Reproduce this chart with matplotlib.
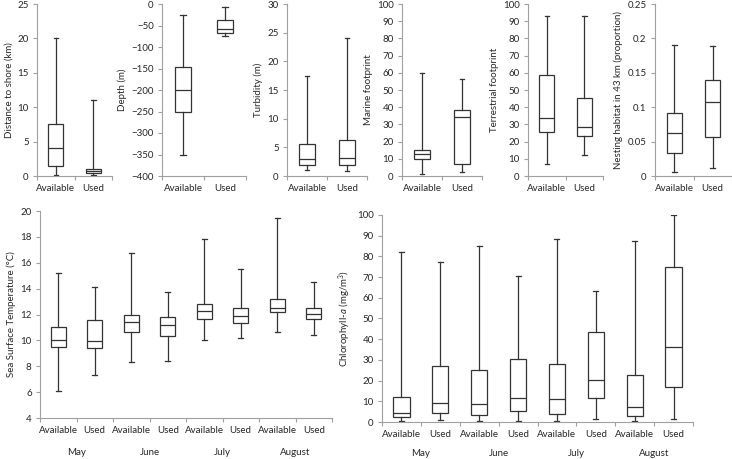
import matplotlib
matplotlib.use('Agg')
import matplotlib.pyplot as plt

plt.rcParams['font.family'] = ['Lato', 'DejaVu Sans']
plt.rcParams['mathtext.fontset'] = 'custom'
plt.rcParams['mathtext.rm'] = 'Lato'
plt.rcParams['mathtext.it'] = 'Lato:italic'

groups = ['Available', 'Used']
months = ['May', 'June', 'July', 'August']

# each row: whisker low, q1, median, q3, whisker high
shore = [[0.1, 1.4, 4.0, 7.6, 20.1], [0.2, 0.45, 0.7, 1.0, 11.0]]
depth = [[-352, -252, -200, -146, -25], [-75, -68, -59, -38, -6]]
turbidity = [[1.0, 1.9, 2.9, 5.5, 17.4], [0.9, 2.0, 3.2, 6.2, 24.0]]
marine = [[1.0, 10.1, 12.8, 15.1, 59.6], [2.2, 6.8, 34.3, 38.6, 56.6]]
terrestrial = [[7.0, 25.3, 34.0, 59.0, 92.8], [12.0, 23.1, 28.5, 45.2, 92.8]]
nesting = [[0.006, 0.034, 0.063, 0.092, 0.190], [0.012, 0.057, 0.108, 0.139, 0.189]]

# May Avail, May Used, June Avail, June Used, ...
sst = [[6.1, 9.49, 10.05, 11.07, 15.23],
       [7.33, 9.38, 9.92, 11.54, 14.12],
       [8.3, 10.62, 11.41, 12.0, 16.72],
       [8.4, 10.36, 11.2, 11.82, 13.75],
       [10.0, 11.64, 12.26, 12.78, 17.87],
       [10.18, 11.31, 11.88, 12.47, 15.48],
       [10.62, 12.16, 12.54, 13.16, 19.49],
       [10.44, 11.62, 12.03, 12.52, 14.55]]
chl = [[0.3, 2.3, 4.2, 12.1, 82.0],
       [1.1, 4.2, 9.3, 27.0, 77.2],
       [0.3, 3.4, 8.7, 25.1, 85.2],
       [0.3, 5.1, 11.6, 30.2, 70.4],
       [0.3, 3.9, 11.1, 28.0, 88.3],
       [1.6, 11.6, 20.4, 43.6, 63.3],
       [0.3, 2.9, 7.2, 22.5, 87.6],
       [1.3, 16.9, 36.3, 74.8, 99.8]]

AX_COL = '#a0a0a0'
TXT_COL = '#262626'
BOX_COL = '#333333'
FS = 7


def to_stats(rows):
    out = []
    for r in rows:
        out.append({'whislo': r[0], 'q1': r[1], 'med': r[2], 'q3': r[3],
                    'whishi': r[4], 'fliers': []})
    return out


def draw(ax, rows, labels, ylim, yticks, ylabel, width=0.4):
    lp = dict(color=BOX_COL, linewidth=0.9)
    ax.bxp(to_stats(rows), positions=range(len(rows)), widths=width,
           capwidths=width * 0.3, showfliers=False, patch_artist=True,
           boxprops=dict(facecolor='white', edgecolor=BOX_COL, linewidth=0.9),
           medianprops=lp, whiskerprops=lp, capprops=lp)
    ax.set_xlim(-0.5, len(rows) - 0.5)
    ax.set_ylim(*ylim)
    ax.set_yticks(yticks)
    ax.set_xticks(range(len(rows)))
    ax.set_xticklabels(labels)
    ax.set_xticks([i - 0.5 for i in range(len(rows) + 1)], minor=True)
    ax.tick_params(axis='x', which='major', length=0, pad=6,
                   labelsize=FS, labelcolor=TXT_COL)
    ax.tick_params(axis='x', which='minor', length=3, color=AX_COL, width=0.8)
    ax.tick_params(axis='y', length=3, color=AX_COL, width=0.8,
                   labelsize=FS, labelcolor=TXT_COL, pad=3)
    for s in ['top', 'right']:
        ax.spines[s].set_visible(False)
    for s in ['left', 'bottom']:
        ax.spines[s].set_color(AX_COL)
        ax.spines[s].set_linewidth(0.8)
    ax.set_ylabel(ylabel, fontsize=FS, color=TXT_COL, labelpad=3)


W, H = 732, 459
fig = plt.figure(figsize=(W / 100, H / 100), dpi=100)


def add_ax(x0, x1, ytop, ybot):
    return fig.add_axes([x0 / W, 1 - ybot / H, (x1 - x0) / W, (ybot - ytop) / H])


top = [
    (37, 112, shore, (0, 25), [0, 5, 10, 15, 20, 25], 'Distance to shore (km)'),
    (162, 246, depth, (-400, 0), list(range(-400, 1, 50)), 'Depth (m)'),
    (287, 367, turbidity, (0, 30), [0, 5, 10, 15, 20, 25, 30], 'Turbidity (m)'),
    (402, 482, marine, (0, 100), list(range(0, 101, 10)), 'Marine footprint'),
    (528, 603, terrestrial, (0, 100), list(range(0, 101, 10)), 'Terrestrial footprint'),
    (655, 732, nesting, (0, 0.25), [0, 0.05, 0.1, 0.15, 0.2, 0.25],
     'Nesting habitat in 43 km (proportion)'),
]
for x0, x1, rows, ylim, yt, lab in top:
    ax = add_ax(x0, x1, 4, 176)
    draw(ax, rows, groups, ylim, yt, lab)
    if ylim[1] == 0.25:
        ax.set_yticklabels(['0', '0.05', '0.1', '0.15', '0.2', '0.25'])

month_labels = []
for m in months:
    month_labels += groups

ax = add_ax(40, 332, 211, 418)
draw(ax, sst, month_labels, (4, 20), list(range(4, 21, 2)),
     'Sea Surface Temperature (°C)', width=0.42)
for i, m in enumerate(months):
    ax.text(2 * i + 0.5, -0.165, m, transform=ax.get_xaxis_transform(),
            ha='center', va='center', fontsize=FS, color=TXT_COL)

ax = add_ax(382, 693, 215, 422)
draw(ax, chl, month_labels, (0, 100), list(range(0, 101, 10)),
     'Chlorophyll-$\\mathit{a}$ (mg/m$^3$)', width=0.42)
for i, m in enumerate(months):
    ax.text(2 * i + 0.5, -0.15, m, transform=ax.get_xaxis_transform(),
            ha='center', va='center', fontsize=FS, color=TXT_COL)

fig.savefig('out.png', dpi=100)
